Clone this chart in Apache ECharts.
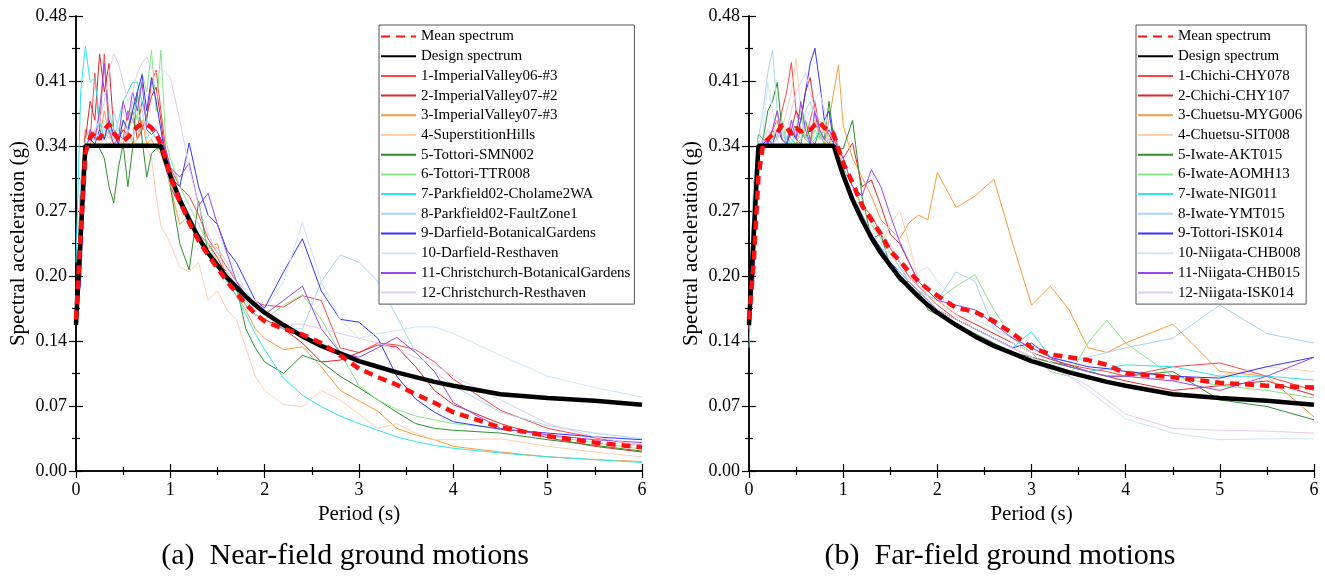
<!DOCTYPE html>
<html>
<head>
<meta charset="utf-8">
<title>Response spectra</title>
<script src="https://cdn.jsdelivr.net/npm/echarts@6/dist/echarts.min.js"></script>
<style>
  html, body { margin: 0; padding: 0; background: #fff; }
  #main { width: 1325px; height: 577px; }
</style>
</head>
<body>
<div id="main"></div>
<script>
// period axis shared by every spectrum (s)
var periods = [0, 0.05, 0.1, 0.15, 0.2, 0.25, 0.3, 0.35, 0.4, 0.45, 0.5, 0.55, 0.6, 0.65, 0.7, 0.75, 0.8, 0.85, 0.9, 0.95, 1.0,
  1.1, 1.2, 1.3, 1.4, 1.5, 1.6, 1.7, 1.8, 1.9, 2.0,
  2.2, 2.4, 2.6, 2.8, 3.0, 3.2, 3.4, 3.6, 3.8, 4.0,
  4.5, 5.0, 5.5, 6.0];

var yTickLabels = ['0.00', '0.07', '0.14', '0.20', '0.27', '0.34', '0.41', '0.48'];

// design spectrum (same in both panels)
var designSpec = [0.154, 0.249, 0.343, 0.343, 0.343, 0.343, 0.343, 0.343, 0.343, 0.343, 0.343, 0.343, 0.343, 0.343, 0.343, 0.343, 0.343, 0.343, 0.343, 0.327, 0.312,
  0.286, 0.265, 0.246, 0.230, 0.217, 0.204, 0.194, 0.184, 0.175, 0.167,
  0.154, 0.142, 0.132, 0.124, 0.116, 0.110, 0.104, 0.099, 0.094, 0.090,
  0.081, 0.077, 0.074, 0.070];

// ---- (a) near-field ----
var nearNames = ['1-ImperialValley06-#3', '2-ImperialValley07-#2', '3-ImperialValley07-#3', '4-SuperstitionHills',
  '5-Tottori-SMN002', '6-Tottori-TTR008', '7-Parkfield02-Cholame2WA', '8-Parkfield02-FaultZone1',
  '9-Darfield-BotanicalGardens', '10-Darfield-Resthaven', '11-Christchurch-BotanicalGardens', '12-Christchurch-Resthaven'];

var nearMean = [0.16, 0.25, 0.335, 0.352, 0.357, 0.35, 0.36, 0.366, 0.357, 0.35, 0.348, 0.352, 0.358, 0.363, 0.366, 0.366, 0.362, 0.356, 0.345, 0.33, 0.31,
  0.285, 0.262, 0.243, 0.228, 0.214, 0.2, 0.188, 0.176, 0.166, 0.158,
  0.15, 0.144, 0.135, 0.122, 0.108, 0.099, 0.091, 0.081, 0.072, 0.062,
  0.046, 0.037, 0.03, 0.025];
var near01 = [0.16, 0.3, 0.36, 0.35, 0.42, 0.36, 0.44, 0.37, 0.35, 0.355, 0.35, 0.38, 0.37, 0.36, 0.39, 0.37, 0.41, 0.423, 0.38, 0.34, 0.32,
  0.3, 0.29, 0.27, 0.245, 0.23, 0.215, 0.2, 0.185, 0.178, 0.175,
  0.173, 0.185, 0.18, 0.13, 0.125, 0.135, 0.133, 0.128, 0.115, 0.097,
  0.064, 0.045, 0.035, 0.027];
var near02 = [0.16, 0.27, 0.35, 0.39, 0.37, 0.44, 0.4, 0.43, 0.36, 0.35, 0.36, 0.355, 0.38, 0.35, 0.36, 0.375, 0.395, 0.405, 0.37, 0.33, 0.3,
  0.28, 0.27, 0.25, 0.24, 0.225, 0.205, 0.19, 0.175, 0.165, 0.16,
  0.15, 0.135, 0.115, 0.117, 0.125, 0.133, 0.131, 0.11, 0.085, 0.07,
  0.05, 0.035, 0.026, 0.02];
var near03 = [0.16, 0.28, 0.34, 0.345, 0.36, 0.35, 0.38, 0.355, 0.345, 0.35, 0.345, 0.36, 0.345, 0.35, 0.37, 0.345, 0.35, 0.34, 0.335, 0.32, 0.3,
  0.26, 0.27, 0.245, 0.235, 0.24, 0.2, 0.185, 0.17, 0.15, 0.14,
  0.128, 0.131, 0.11, 0.085, 0.074, 0.063, 0.045, 0.038, 0.033, 0.026,
  0.02, 0.015, 0.012, 0.01];
var near04 = [0.16, 0.3, 0.345, 0.35, 0.35, 0.345, 0.35, 0.345, 0.35, 0.345, 0.35, 0.345, 0.35, 0.345, 0.345, 0.34, 0.33, 0.29, 0.258, 0.25, 0.24,
  0.215, 0.21, 0.22, 0.18, 0.19, 0.17, 0.16, 0.13, 0.1, 0.085,
  0.07, 0.068, 0.085, 0.075, 0.06, 0.045, 0.05, 0.04, 0.033, 0.033,
  0.034, 0.026, 0.02, 0.015];
var near05 = [0.17, 0.3, 0.345, 0.35, 0.345, 0.34, 0.33, 0.3, 0.283, 0.32, 0.345, 0.3, 0.34, 0.4, 0.35, 0.31, 0.335, 0.34, 0.34, 0.33, 0.3,
  0.24, 0.212, 0.285, 0.23, 0.22, 0.21, 0.195, 0.15, 0.13, 0.115,
  0.103, 0.122, 0.115, 0.1, 0.088, 0.075, 0.062, 0.05, 0.045, 0.043,
  0.04, 0.033, 0.027, 0.021];
var near06 = [0.17, 0.29, 0.35, 0.36, 0.35, 0.37, 0.35, 0.38, 0.36, 0.35, 0.37, 0.36, 0.39, 0.37, 0.42, 0.4, 0.444, 0.38, 0.444, 0.35, 0.33,
  0.3, 0.28, 0.26, 0.24, 0.22, 0.2, 0.19, 0.175, 0.165, 0.16,
  0.175, 0.186, 0.16, 0.125, 0.09, 0.075, 0.065, 0.058, 0.054, 0.05,
  0.045, 0.037, 0.03, 0.023];
var near07 = [0.22, 0.4, 0.448, 0.41, 0.415, 0.37, 0.35, 0.36, 0.35, 0.37, 0.39, 0.4, 0.41, 0.41, 0.39, 0.37, 0.36, 0.35, 0.345, 0.33, 0.31,
  0.29, 0.27, 0.25, 0.23, 0.215, 0.2, 0.185, 0.165, 0.145, 0.128,
  0.098, 0.08, 0.068, 0.058, 0.05, 0.043, 0.036, 0.031, 0.027, 0.024,
  0.019, 0.015, 0.012, 0.009];
var near08 = [0.16, 0.3, 0.35, 0.36, 0.35, 0.37, 0.36, 0.35, 0.38, 0.36, 0.35, 0.36, 0.37, 0.39, 0.38, 0.35, 0.36, 0.35, 0.34, 0.32, 0.3,
  0.29, 0.27, 0.25, 0.24, 0.235, 0.22, 0.2, 0.19, 0.175, 0.165,
  0.15, 0.15, 0.2, 0.228, 0.22, 0.2, 0.163, 0.125, 0.105, 0.09,
  0.062, 0.048, 0.04, 0.034];
var near09 = [0.16, 0.28, 0.34, 0.35, 0.345, 0.36, 0.35, 0.37, 0.355, 0.345, 0.37, 0.36, 0.38, 0.4, 0.418, 0.38, 0.415, 0.39, 0.36, 0.33, 0.31,
  0.3, 0.346, 0.3, 0.27, 0.26, 0.233, 0.22, 0.2, 0.18, 0.172,
  0.21, 0.245, 0.19, 0.16, 0.157, 0.14, 0.1, 0.076, 0.062, 0.052,
  0.044, 0.04, 0.036, 0.033];
var near10 = [0.17, 0.3, 0.345, 0.35, 0.36, 0.35, 0.37, 0.36, 0.35, 0.37, 0.38, 0.36, 0.35, 0.37, 0.38, 0.36, 0.35, 0.36, 0.35, 0.33, 0.31,
  0.29, 0.28, 0.26, 0.27, 0.25, 0.23, 0.21, 0.19, 0.18, 0.17,
  0.2, 0.262, 0.2, 0.16, 0.14, 0.145, 0.148, 0.152, 0.152, 0.145,
  0.122, 0.1, 0.088, 0.078];
var near11 = [0.16, 0.2, 0.33, 0.36, 0.35, 0.38, 0.43, 0.36, 0.345, 0.35, 0.39, 0.37, 0.4, 0.38, 0.41, 0.36, 0.355, 0.36, 0.35, 0.34, 0.32,
  0.31, 0.325, 0.28, 0.293, 0.26, 0.23, 0.2, 0.185, 0.175, 0.165,
  0.18, 0.195, 0.15, 0.125, 0.12, 0.13, 0.141, 0.125, 0.105, 0.072,
  0.045, 0.038, 0.033, 0.03];
var near12 = [0.17, 0.27, 0.34, 0.35, 0.36, 0.37, 0.39, 0.42, 0.44, 0.43, 0.41, 0.39, 0.4, 0.42, 0.43, 0.437, 0.425, 0.42, 0.425, 0.42, 0.415,
  0.37, 0.32, 0.28, 0.25, 0.23, 0.21, 0.195, 0.18, 0.17, 0.165,
  0.155, 0.155, 0.15, 0.145, 0.14, 0.135, 0.128, 0.12, 0.112, 0.1,
  0.075, 0.05, 0.036, 0.027];

// ---- (b) far-field ----
var farNames = ['1-Chichi-CHY078', '2-Chichi-CHY107', '3-Chuetsu-MYG006', '4-Chuetsu-SIT008',
  '5-Iwate-AKT015', '6-Iwate-AOMH13', '7-Iwate-NIG011', '8-Iwate-YMT015',
  '9-Tottori-ISK014', '10-Niigata-CHB008', '11-Niigata-CHB015', '12-Niigata-ISK014'];

var farMean = [0.16, 0.22, 0.31, 0.345, 0.35, 0.355, 0.357, 0.365, 0.363, 0.355, 0.362, 0.358, 0.36, 0.36, 0.365, 0.368, 0.362, 0.36, 0.355, 0.34, 0.325,
  0.304, 0.28, 0.265, 0.25, 0.232, 0.222, 0.21, 0.2, 0.192, 0.185,
  0.172, 0.168, 0.158, 0.145, 0.13, 0.123, 0.12, 0.117, 0.112, 0.103,
  0.099, 0.093, 0.09, 0.088];
var far01 = [0.15, 0.25, 0.34, 0.345, 0.35, 0.36, 0.35, 0.38, 0.4, 0.431, 0.38, 0.36, 0.35, 0.37, 0.39, 0.36, 0.35, 0.345, 0.36, 0.34, 0.32,
  0.3, 0.28, 0.27, 0.25, 0.235, 0.22, 0.205, 0.195, 0.185, 0.175,
  0.16, 0.15, 0.14, 0.13, 0.12, 0.115, 0.112, 0.108, 0.105, 0.1,
  0.11, 0.114, 0.1, 0.085];
var far02 = [0.15, 0.24, 0.34, 0.35, 0.345, 0.36, 0.37, 0.35, 0.345, 0.36, 0.38, 0.37, 0.4, 0.415, 0.38, 0.35, 0.36, 0.355, 0.345, 0.34, 0.33,
  0.346, 0.3, 0.307, 0.28, 0.25, 0.24, 0.22, 0.2, 0.19, 0.18,
  0.165, 0.155, 0.145, 0.135, 0.125, 0.118, 0.112, 0.105, 0.1, 0.095,
  0.085, 0.09, 0.095, 0.08];
var far03 = [0.16, 0.25, 0.34, 0.345, 0.35, 0.36, 0.38, 0.35, 0.36, 0.35, 0.345, 0.36, 0.35, 0.345, 0.37, 0.355, 0.345, 0.37, 0.4, 0.428, 0.365,
  0.33, 0.31, 0.29, 0.265, 0.255, 0.245, 0.262, 0.27, 0.265, 0.315,
  0.278, 0.29, 0.308, 0.24, 0.175, 0.195, 0.17, 0.13, 0.125, 0.135,
  0.155, 0.105, 0.1, 0.057];
var far04 = [0.16, 0.28, 0.34, 0.345, 0.36, 0.35, 0.37, 0.36, 0.38, 0.4, 0.435, 0.38, 0.36, 0.35, 0.37, 0.35, 0.36, 0.345, 0.35, 0.34, 0.32,
  0.29, 0.27, 0.25, 0.24, 0.26, 0.275, 0.24, 0.2, 0.19, 0.18,
  0.165, 0.15, 0.14, 0.13, 0.12, 0.115, 0.11, 0.105, 0.1, 0.1,
  0.095, 0.1, 0.11, 0.105];
var far05 = [0.16, 0.3, 0.355, 0.35, 0.38, 0.39, 0.41, 0.36, 0.345, 0.36, 0.35, 0.345, 0.37, 0.35, 0.345, 0.36, 0.35, 0.39, 0.35, 0.34, 0.34,
  0.37, 0.29, 0.245, 0.25, 0.215, 0.2, 0.2, 0.19, 0.17, 0.165,
  0.155, 0.145, 0.135, 0.125, 0.12, 0.115, 0.11, 0.105, 0.1, 0.1,
  0.105, 0.075, 0.068, 0.054];
var far06 = [0.16, 0.29, 0.35, 0.34, 0.345, 0.35, 0.36, 0.37, 0.35, 0.345, 0.36, 0.38, 0.35, 0.345, 0.36, 0.35, 0.37, 0.35, 0.345, 0.33, 0.32,
  0.3, 0.28, 0.26, 0.245, 0.23, 0.215, 0.2, 0.19, 0.185, 0.18,
  0.195, 0.207, 0.17, 0.14, 0.125, 0.105, 0.1, 0.135, 0.159, 0.135,
  0.1, 0.09, 0.085, 0.077];
var far07 = [0.13, 0.25, 0.34, 0.345, 0.35, 0.345, 0.35, 0.36, 0.345, 0.35, 0.345, 0.35, 0.355, 0.345, 0.35, 0.36, 0.345, 0.35, 0.345, 0.33, 0.31,
  0.29, 0.27, 0.25, 0.235, 0.22, 0.21, 0.2, 0.19, 0.18, 0.17,
  0.16, 0.15, 0.14, 0.13, 0.147, 0.12, 0.11, 0.105, 0.108, 0.112,
  0.11, 0.1, 0.1, 0.096];
var far08 = [0.16, 0.3, 0.35, 0.38, 0.42, 0.444, 0.38, 0.36, 0.35, 0.37, 0.36, 0.35, 0.38, 0.39, 0.37, 0.36, 0.35, 0.36, 0.35, 0.33, 0.31,
  0.29, 0.27, 0.25, 0.235, 0.23, 0.215, 0.2, 0.19, 0.185, 0.18,
  0.21, 0.2, 0.15, 0.14, 0.13, 0.12, 0.115, 0.12, 0.125, 0.13,
  0.14, 0.175, 0.145, 0.135];
var far09 = [0.16, 0.28, 0.34, 0.345, 0.35, 0.345, 0.36, 0.35, 0.345, 0.36, 0.35, 0.37, 0.4, 0.43, 0.446, 0.41, 0.37, 0.38, 0.345, 0.33, 0.31,
  0.29, 0.27, 0.25, 0.235, 0.22, 0.21, 0.2, 0.19, 0.18, 0.17,
  0.16, 0.15, 0.14, 0.13, 0.135, 0.12, 0.115, 0.11, 0.108, 0.105,
  0.1, 0.098, 0.11, 0.12];
var far10 = [0.16, 0.3, 0.35, 0.36, 0.41, 0.38, 0.35, 0.36, 0.34, 0.35, 0.36, 0.35, 0.37, 0.38, 0.39, 0.4, 0.38, 0.36, 0.35, 0.33, 0.31,
  0.29, 0.27, 0.25, 0.24, 0.225, 0.21, 0.2, 0.21, 0.215, 0.2,
  0.18, 0.16, 0.15, 0.135, 0.125, 0.115, 0.1, 0.085, 0.07, 0.055,
  0.04, 0.033, 0.034, 0.034];
var far11 = [0.16, 0.2, 0.33, 0.35, 0.345, 0.36, 0.38, 0.35, 0.345, 0.37, 0.35, 0.39, 0.36, 0.345, 0.38, 0.36, 0.35, 0.36, 0.35, 0.34, 0.33,
  0.3, 0.29, 0.318, 0.3, 0.27, 0.242, 0.22, 0.2, 0.19, 0.18,
  0.175, 0.17, 0.155, 0.14, 0.13, 0.12, 0.11, 0.105, 0.1, 0.1,
  0.095, 0.085, 0.1, 0.12];
var far12 = [0.16, 0.27, 0.34, 0.35, 0.36, 0.345, 0.35, 0.37, 0.36, 0.38, 0.4, 0.41, 0.42, 0.4, 0.38, 0.37, 0.36, 0.35, 0.345, 0.33, 0.31,
  0.29, 0.27, 0.25, 0.25, 0.24, 0.22, 0.2, 0.19, 0.18, 0.17,
  0.16, 0.15, 0.14, 0.13, 0.12, 0.11, 0.1, 0.09, 0.075, 0.06,
  0.045, 0.043, 0.042, 0.04];

var recordColors = ['#ff4545', '#dc2a2a', '#ff9a3c', '#ffcfae', '#2f8f2f', '#86e886',
  '#2ee6ee', '#a6d6f2', '#3434ff', '#cfe5f8', '#9b45f0', '#e2ccf5'];

var nearRecords = [near01, near02, near03, near04, near05, near06, near07, near08, near09, near10, near11, near12];
var farRecords = [far01, far02, far03, far04, far05, far06, far07, far08, far09, far10, far11, far12];

var FONT = 'Liberation Serif';

function pairs(vals) {
  return periods.map(function (t, i) { return [t, vals[i]]; });
}

function lineSeries(name, vals, color, width, gi, dash, z) {
  return {
    type: 'line',
    name: name,
    xAxisIndex: gi * 2,
    yAxisIndex: gi * 2,
    data: pairs(vals),
    symbol: 'none',
    showSymbol: false,
    z: z,
    lineStyle: {color: color, width: width, type: dash || 'solid'},
    itemStyle: {color: color},
    emphasis: {disabled: true}
  };
}

var series = [];
[nearRecords, farRecords].forEach(function (recs, gi) {
  var names = gi === 0 ? nearNames : farNames;
  recs.forEach(function (r, k) {
    series.push(lineSeries(names[k], r, recordColors[k], 1, gi, null, 2));
  });
  series.push(lineSeries('Design spectrum', designSpec, '#000', 4.5, gi, null, 3));
  series.push(lineSeries('Mean spectrum', gi === 0 ? nearMean : farMean, '#ff1010', 4.5, gi, [9, 6], 4));
});

function xAxisPair(gi) {
  var base = {
    type: 'value', gridIndex: gi, min: 0, max: 6, interval: 1,
    axisLine: {lineStyle: {color: '#000', width: 1.5}},
    axisTick: {inside: true, length: 7, lineStyle: {color: '#000', width: 1.2}},
    minorTick: {show: true, splitNumber: 2, length: 4, lineStyle: {color: '#000', width: 1.2}},
    splitLine: {show: false}
  };
  var bottom = Object.assign({}, base, {
    position: 'bottom',
    name: 'Period (s)', nameLocation: 'middle', nameGap: 28,
    nameTextStyle: {fontFamily: FONT, fontSize: 21, color: '#000'},
    axisLabel: {fontFamily: FONT, fontSize: 18, color: '#000', margin: 10}
  });
  var top = Object.assign({}, base, {position: 'top', axisLabel: {show: false}});
  return [bottom, top];
}

var yStep = 0.48 / 7;
function yAxisPair(gi) {
  var base = {
    type: 'value', gridIndex: gi, min: 0, max: 0.48, interval: yStep,
    axisLine: {lineStyle: {color: '#000', width: 1.5}},
    axisTick: {inside: true, length: 7, lineStyle: {color: '#000', width: 1.2}},
    minorTick: {show: true, splitNumber: 2, length: 4, lineStyle: {color: '#000', width: 1.2}},
    splitLine: {show: false}
  };
  var left = Object.assign({}, base, {
    position: 'left',
    name: 'Spectral acceleration (g)', nameLocation: 'middle', nameGap: 47,
    nameTextStyle: {fontFamily: FONT, fontSize: 21, color: '#000'},
    axisLabel: {
      fontFamily: FONT, fontSize: 18, color: '#000', margin: 9,
      formatter: function (v) { return yTickLabels[Math.round(v / yStep)]; }
    }
  });
  var right = Object.assign({}, base, {position: 'right', axisLabel: {show: false}});
  return [left, right];
}

function legendFor(gi, left) {
  var names = gi === 0 ? nearNames : farNames;
  return {
    orient: 'vertical',
    left: left, top: 25,
    data: ['Mean spectrum', 'Design spectrum'].concat(names),
    itemWidth: 35, itemHeight: 14, itemGap: 4.7,
    padding: [4, 4, 4, 1],
    backgroundColor: '#fff',
    borderColor: '#555', borderWidth: 1,
    selectedMode: false,
    // hide the marker dot, keep only the line sample
    itemStyle: {opacity: 0},
    textStyle: {fontFamily: FONT, fontSize: 15, color: '#000'}
  };
}

var chart = echarts.init(document.getElementById('main'));
chart.setOption({
  animation: false,
  backgroundColor: '#fff',
  grid: [
    {left: 76, top: 16, width: 566, height: 455},
    {left: 749, top: 16, width: 565, height: 455}
  ],
  xAxis: xAxisPair(0).concat(xAxisPair(1)),
  yAxis: yAxisPair(0).concat(yAxisPair(1)),
  legend: [legendFor(0, 379), legendFor(1, 1136)],
  graphic: [
    {type: 'text', x: 345, y: 556, style: {text: '(a)  Near-field ground motions', font: '30px "Liberation Serif"', fill: '#000', textAlign: 'center', textVerticalAlign: 'middle'}},
    {type: 'text', x: 1000, y: 556, style: {text: '(b)  Far-field ground motions', font: '30px "Liberation Serif"', fill: '#000', textAlign: 'center', textVerticalAlign: 'middle'}}
  ],
  series: series
});
</script>
</body>
</html>
